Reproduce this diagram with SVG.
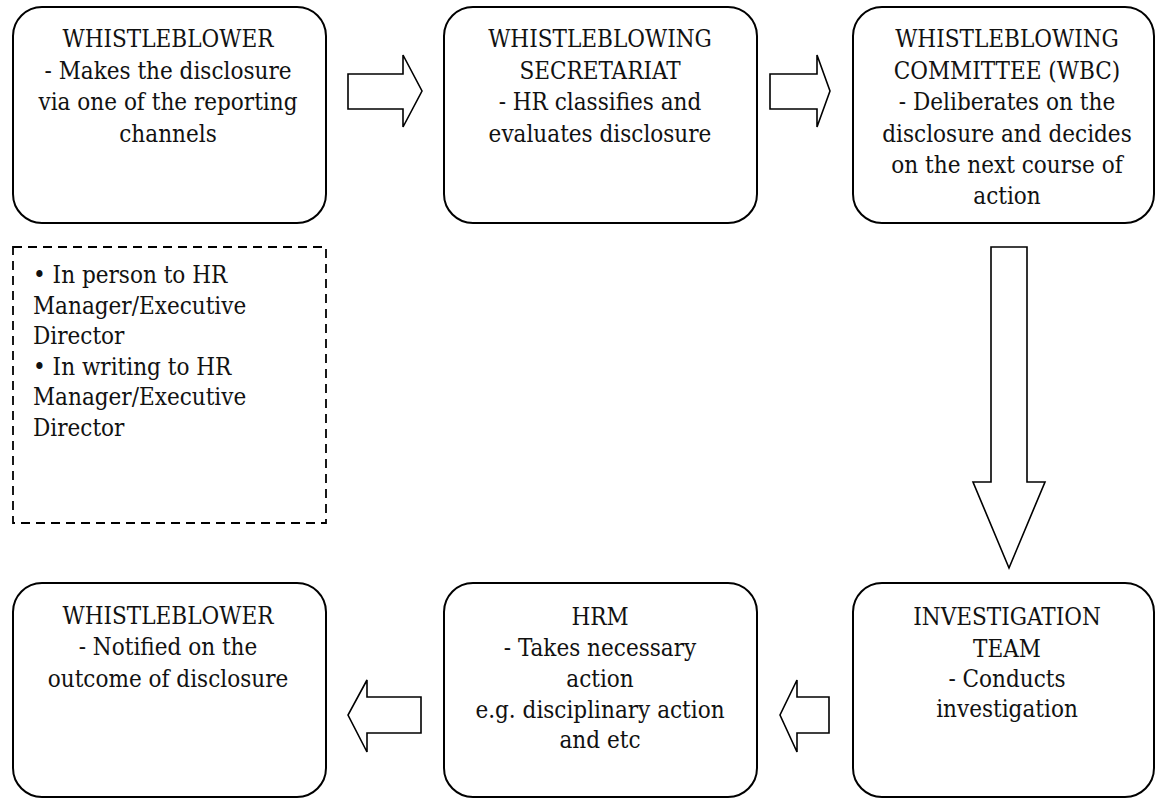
<svg xmlns="http://www.w3.org/2000/svg" width="1156" height="799" viewBox="0 0 1156 799">
<style>
.box{fill:#fff;stroke:#000;stroke-width:2}
.dash{fill:#fff;stroke:#000;stroke-width:1.8;stroke-dasharray:9,6}
.arr{fill:#fff;stroke:#000;stroke-width:1.6;stroke-linejoin:miter}
.c{text-anchor:middle}
text{font-family:'DejaVu Serif Condensed','DejaVu Serif',serif;font-stretch:condensed;font-size:24px;fill:#111}
</style>
<rect width="1156" height="799" fill="#fff"/>
<g id="connectors">
<polygon class="arr" points="348,74 403,74 403,55 422,91 403,127 403,109 348,109"/>
<polygon class="arr" points="770,74 817,74 817,55 830,91 817,127 817,109 770,109"/>
<polygon class="arr" points="991,247 1027,247 1027,482 1045,482 1009,568 973,482 991,482"/>
<polygon class="arr" points="829,697 797,697 797,680 780,715 797,752 797,733 829,733"/>
<polygon class="arr" points="421,697 367,697 367,680 348,715 367,752 367,733 421,733"/>
</g>
<g id="n1">
<rect class="box" x="13" y="7" width="313" height="216" rx="29"/>
<text class="c" x="168" y="47">WHISTLEBLOWER</text>
<text class="c" x="168" y="79">- Makes the disclosure</text>
<text class="c" x="168" y="110">via one of the reporting</text>
<text class="c" x="168" y="142">channels</text>
</g>
<g id="n2">
<rect class="box" x="444" y="7" width="313" height="216" rx="29"/>
<text class="c" x="600" y="47">WHISTLEBLOWING</text>
<text class="c" x="600" y="79">SECRETARIAT</text>
<text class="c" x="600" y="110">- HR classifies and</text>
<text class="c" x="600" y="142">evaluates disclosure</text>
</g>
<g id="n3">
<rect class="box" x="853" y="7" width="301" height="216" rx="29"/>
<text class="c" x="1007" y="47">WHISTLEBLOWING</text>
<text class="c" x="1007" y="79">COMMITTEE (WBC)</text>
<text class="c" x="1007" y="110">- Deliberates on the</text>
<text class="c" x="1007" y="142">disclosure and decides</text>
<text class="c" x="1007" y="173">on the next course of</text>
<text class="c" x="1007" y="204">action</text>
</g>
<g id="n_channels">
<rect class="dash" x="13" y="247" width="313" height="276"/>
<text x="33" y="283">• In person to HR</text>
<text x="33" y="313.5">Manager/Executive</text>
<text x="33" y="344">Director</text>
<text x="33" y="374.5">• In writing to HR</text>
<text x="33" y="405">Manager/Executive</text>
<text x="33" y="435.5">Director</text>
</g>
<g id="n4">
<rect class="box" x="13" y="583" width="313" height="214" rx="29"/>
<text class="c" x="168" y="624">WHISTLEBLOWER</text>
<text class="c" x="168" y="655">- Notified on the</text>
<text class="c" x="168" y="687">outcome of disclosure</text>
</g>
<g id="n5">
<rect class="box" x="444" y="583" width="313" height="214" rx="29"/>
<text class="c" x="600" y="625">HRM</text>
<text class="c" x="600" y="656">- Takes necessary</text>
<text class="c" x="600" y="687">action</text>
<text class="c" x="600" y="718">e.g. disciplinary action</text>
<text class="c" x="600" y="748">and etc</text>
</g>
<g id="n6">
<rect class="box" x="853" y="583" width="301" height="214" rx="29"/>
<text class="c" x="1007" y="625">INVESTIGATION</text>
<text class="c" x="1007" y="657">TEAM</text>
<text class="c" x="1007" y="687">- Conducts</text>
<text class="c" x="1007" y="717">investigation</text>
</g>
</svg>
